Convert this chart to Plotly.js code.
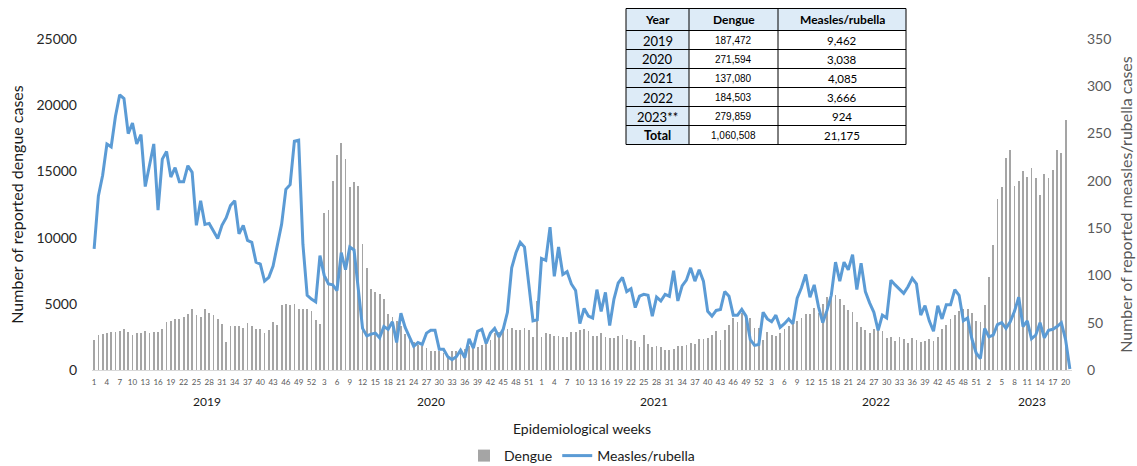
<!DOCTYPE html>
<html>
<head>
<meta charset="utf-8">
<script src="https://cdn.plot.ly/plotly-3.0.1.min.js"></script>
<style>
  html, body { margin: 0; padding: 0; background: #ffffff; }
  #chart { width: 1137px; height: 466px; }
</style>
</head>
<body>
<div id="chart"></div>
<script>
// ---------------- DATA ----------------
const yearNames = ['2019', '2020', '2021', '2022', '2023'];
const weeksPerYear = [52, 53, 52, 52, 21];

const dengue2019 = [2260,2640,2710,2790,2860,2890,2940,3110,2860,2640,2790,2790,2960,2790,2860,2840,3060,3590,3670,3840,3840,4040,4220,4620,4190,4020,4570,4340,4190,3890,3510,2080,3340,3360,3360,3210,3560,3290,3060,3060,2790,3010,3610,3410,4900,4970,4900,5020,4620,4620,4620,4440];
const dengue2020 = [3750,3500,11870,12070,14260,16260,17180,15960,13820,14230,13930,9540,7730,6140,5920,5770,5350,4220,4000,3700,3300,2710,2280,2080,1920,1850,1690,1460,1460,1460,1260,1000,1460,1460,1500,1620,1780,1630,1760,1880,2160,2260,2760,2840,3010,3090,3180,3010,3010,3190,3010,2460,5210];
const dengue2021 = [2510,2760,2740,2560,2560,2530,2470,2840,2840,3010,3090,2940,2540,2540,2810,2460,2380,2380,2560,2640,2310,2230,2210,1730,2640,1950,1760,1840,1760,1490,1490,1580,1840,1810,1880,2010,1970,2370,2330,2400,2620,2920,2260,3010,3390,3940,3650,4270,3890,3920,3200,3200];
const dengue2022 = [2300,2860,2640,2560,2790,3100,3360,3490,3700,3920,4240,4240,4690,4270,5000,5520,5450,5650,5400,4920,4540,4350,3610,3240,3040,2760,3070,3010,2910,2380,2510,2180,2530,2360,2030,2410,2260,2130,2210,2360,2170,2480,3070,3380,3840,4190,4480,4640,4620,4340,3700,3610];
const dengue2023 = [4900,7000,9410,12900,13800,16000,16620,13890,14310,15000,14560,15260,14480,13250,14810,14480,15090,16630,16400,18900,null];

const measles2019 = [128,184,206,239,236,268,291,287,250,261,239,249,194,216,239,169,223,231,204,214,199,199,216,209,153,179,154,155,147,139,153,161,174,179,144,153,137,135,114,112,94,98,110,131,154,191,196,242,243,133,79,75];
const measles2020 = [72,121,100,91,90,84,124,106,130,127,82,44,36,38,39,34,46,43,51,29,60,45,35,25,29,27,39,42,42,22,22,14,11,14,21,13,33,23,41,43,28,39,44,35,43,61,108,124,135,130,91,52,53];
const measles2021 = [118,116,151,99,130,101,104,91,84,49,65,57,55,85,62,82,47,75,92,98,83,86,66,78,80,79,57,77,73,80,78,105,73,89,95,108,94,106,94,62,57,63,64,83,78,58,58,64,57,32,26,27];
const measles2022 = [61,54,51,58,45,49,54,49,76,87,101,77,90,67,50,63,79,114,94,114,106,122,85,113,83,71,61,42,58,55,95,90,85,81,88,97,91,58,68,52,41,68,54,69,69,85,79,52,55,33,18,12];
const measles2023 = [44,35,37,48,50,44,51,62,77,46,52,33,37,50,34,42,43,46,50,32,1];

// summary table
const tableHeader = ['Year', 'Dengue', 'Measles/rubella'];
const tableYears = ['2019', '2020', '2021', '2022', '2023**', 'Total'];
const tableDengue = ['187,472', '271,594', '137,080', '184,503', '279,859', '1,060,508'];
const tableMeasles = ['9,462', '3,038', '4,085', '3,666', '924', '21,175'];

// ---------------- BUILD ----------------
const dengue = [].concat(dengue2019, dengue2020, dengue2021, dengue2022, dengue2023);
const measles = [].concat(measles2019, measles2020, measles2021, measles2022, measles2023);

const idx = [];
const weekNum = [];
const yearStart = [];
let k = 0;
weeksPerYear.forEach(function (n) {
  yearStart.push(k);
  for (let w = 1; w <= n; w++) { idx.push(k); weekNum.push(String(w)); k++; }
});
const N = idx.length;

const tickvals = [], ticktext = [];
for (let i = 0; i < N; i += 3) {
  if (i <= N - 2) { tickvals.push(i); ticktext.push(weekNum[i]); }
}

// layout geometry (pixels)
const FULLW = 1137, FULLH = 466;
const ML = 92, MR = 65, MT = 39, MB = 96;
const PW = FULLW - ML - MR, PH = FULLH - MT - MB;
function fx(px) { return (px - ML) / PW; }
function fy(py) { return (MT + PH - py) / PH; }

const FONT = 'Lato, "Open Sans", sans-serif';

const annotations = [];
const shapes = [];

// year labels under the week ticks
yearNames.forEach(function (y, j) {
  const a = yearStart[j];
  const b = a + weeksPerYear[j] - 1;
  annotations.push({
    x: (a + b) / 2 + 1, xref: 'x', y: fy(401.5), yref: 'paper',
    text: y, showarrow: false, xanchor: 'center', yanchor: 'middle',
    font: { family: FONT, size: 12, color: '#1a1a1a' }
  });
});

// summary table drawn with shapes + annotations
const colX = [626, 689, 778, 906];
const rowY = [8.5, 30.5, 49.5, 68.5, 87.5, 106.5, 125.5, 144.5];
const blue = '#DDEBF7';
shapes.push({ type: 'rect', xref: 'paper', yref: 'paper', x0: fx(colX[0]), x1: fx(colX[3]), y0: fy(rowY[0]), y1: fy(rowY[7]), fillcolor: '#ffffff', line: { width: 0 }, layer: 'above' });
shapes.push({ type: 'rect', xref: 'paper', yref: 'paper', x0: fx(colX[0]), x1: fx(colX[3]), y0: fy(rowY[0]), y1: fy(rowY[1]), fillcolor: blue, line: { width: 0 }, layer: 'above' });
shapes.push({ type: 'rect', xref: 'paper', yref: 'paper', x0: fx(colX[0]), x1: fx(colX[1]), y0: fy(rowY[1]), y1: fy(rowY[7]), fillcolor: blue, line: { width: 0 }, layer: 'above' });
rowY.forEach(function (yy) {
  shapes.push({ type: 'line', xref: 'paper', yref: 'paper', x0: fx(colX[0]), x1: fx(colX[3]), y0: fy(yy), y1: fy(yy), line: { color: '#000000', width: 1 }, layer: 'above' });
});
colX.forEach(function (xx) {
  shapes.push({ type: 'line', xref: 'paper', yref: 'paper', x0: fx(xx), x1: fx(xx), y0: fy(rowY[0]), y1: fy(rowY[7]), line: { color: '#000000', width: 1 }, layer: 'above' });
});
function cell(c, r, text, font) {
  annotations.push({
    x: fx((colX[c] + colX[c + 1]) / 2), xref: 'paper',
    y: fy((rowY[r] + rowY[r + 1]) / 2 + 0.5), yref: 'paper',
    text: text, showarrow: false, xanchor: 'center', yanchor: 'middle', font: font
  });
}
tableHeader.forEach(function (h, c) {
  cell(c, 0, '<b>' + h + '</b>', { family: FONT, size: 12, color: '#000' });
});
tableYears.forEach(function (y, r) {
  const isTotal = (r === tableYears.length - 1);
  cell(0, r + 1, isTotal ? '<b>' + y + '</b>' : y, { family: FONT, size: isTotal ? 12.5 : 13, color: '#000' });
  cell(1, r + 1, tableDengue[r], { family: '"Liberation Sans", Arial, sans-serif', size: 10, color: '#000' });
  cell(2, r + 1, tableMeasles[r], { family: FONT, size: 11.5, color: '#000' });
});

const traces = [
  {
    type: 'bar', name: 'Dengue', x: idx, y: dengue, width: 0.42,
    marker: { color: '#A5A5A5', line: { width: 0 } },
    yaxis: 'y', hoverinfo: 'skip'
  },
  {
    type: 'scatter', mode: 'lines', name: 'Measles/rubella', x: idx, y: measles,
    line: { color: '#5B9BD5', width: 3 }, yaxis: 'y2', hoverinfo: 'skip'
  }
];

const layout = {
  width: FULLW, height: FULLH,
  margin: { l: ML, r: MR, t: MT, b: MB, pad: 0, autoexpand: false },
  paper_bgcolor: '#ffffff', plot_bgcolor: '#ffffff',
  showlegend: true,
  legend: {
    orientation: 'h', x: 0.5, xanchor: 'center', y: fy(456), yanchor: 'middle',
    font: { family: FONT, size: 14, color: '#1a1a1a' }, bgcolor: 'rgba(0,0,0,0)',
    tracegroupgap: 0, itemwidth: 30
  },
  bargap: 0,
  xaxis: {
    range: [-0.5, N - 0.5], tickmode: 'array', tickvals: tickvals, ticktext: ticktext,
    tickangle: 0, ticks: '', showgrid: false, zeroline: false,
    showline: true, linecolor: '#D9D9D9', linewidth: 1,
    tickfont: { family: FONT, size: 8, color: '#595959' }, ticklabelstandoff: 4,
    title: { text: 'Epidemiological weeks', font: { family: FONT, size: 14, color: '#1a1a1a' }, standoff: 38 },
    automargin: false, fixedrange: true
  },
  yaxis: {
    range: [0, 25000], dtick: 5000, tick0: 0, tickformat: 'd',
    showgrid: false, zeroline: false, showline: false, ticks: '',
    tickfont: { family: FONT, size: 14, color: '#262626' }, ticklabelstandoff: 14,
    title: { text: 'Number of reported dengue cases', font: { family: FONT, size: 16, color: '#1a1a1a' }, standoff: 8 },
    automargin: false, fixedrange: true
  },
  yaxis2: {
    overlaying: 'y', side: 'right', range: [0, 350], dtick: 50, tick0: 0,
    showgrid: false, zeroline: false, showline: false, ticks: '',
    tickfont: { family: FONT, size: 14, color: '#595959' }, ticklabelstandoff: 14,
    title: { text: 'Number of reported measles/rubella cases', font: { family: FONT, size: 16, color: '#595959' }, standoff: 10 },
    automargin: false, fixedrange: true
  },
  annotations: annotations,
  shapes: shapes
};

Plotly.newPlot('chart', traces, layout, { staticPlot: true, displayModeBar: false });
</script>
</body>
</html>
